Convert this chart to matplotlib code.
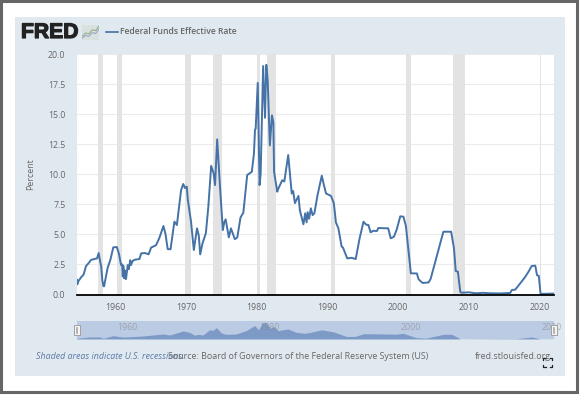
# -*- coding: utf-8 -*-
import matplotlib
matplotlib.use('Agg')
import matplotlib.pyplot as plt
import matplotlib.patheffects as pe
from matplotlib.patches import Rectangle

W, H = 580, 395

years = [1954.5, 1954.55, 1954.62, 1954.7, 1955.15, 1955.5, 1955.85, 1956.2, 1956.55, 1957.0, 1957.4, 1957.64,
         1957.75, 1958.0, 1958.15, 1958.3, 1958.4, 1958.9, 1959.3, 1959.7, 1960.2, 1960.5, 1960.8, 1960.95,
         1961.05, 1961.12, 1961.25, 1961.32, 1961.5, 1961.75, 1961.9, 1962.1, 1962.2, 1962.45, 1962.8, 1963.4,
         1963.65, 1964.2, 1964.7, 1965.05, 1965.75, 1966.2, 1966.8, 1967.1, 1967.4, 1967.8, 1968.35, 1968.7,
         1969.3, 1969.6, 1969.85, 1970.1, 1970.25, 1970.7, 1971.1, 1971.55, 1971.8, 1972.0, 1972.3, 1972.8,
         1973.15, 1973.55, 1973.9, 1974.1, 1974.4, 1974.8, 1975.2, 1975.4, 1975.6, 1976.05, 1976.35, 1976.9,
         1977.25, 1977.7, 1978.1, 1978.65, 1979.3, 1979.6, 1979.75, 1979.85, 1980.14, 1980.4, 1980.55, 1980.9,
         1981.05, 1981.17, 1981.35, 1981.55, 1981.85, 1982.15, 1982.35, 1982.45, 1982.9, 1983.05, 1983.6, 1983.9,
         1984.45, 1984.95, 1985.15, 1985.4, 1985.9, 1986.1, 1986.6, 1986.85, 1987.05, 1987.2, 1987.4, 1987.65,
         1987.9, 1988.15, 1988.6, 1989.2, 1989.5, 1989.8, 1990.5, 1990.9, 1991.2, 1991.55, 1992.0, 1992.2,
         1992.8, 1993.4, 1994.0, 1994.55, 1995.1, 1995.5, 1995.8, 1996.1, 1996.5, 1997.0, 1997.2, 1998.6,
         1998.95, 1999.4, 1999.8, 2000.3, 2000.75, 2001.1, 2001.45, 2001.8, 2002.65, 2002.9, 2003.45, 2004.3,
         2004.6, 2006.4, 2007.5, 2007.9, 2008.15, 2008.45, 2008.8, 2009.0, 2010.0, 2011.0, 2012.0, 2013.0,
         2014.5, 2015.85, 2016.1, 2016.55, 2016.9, 2017.5, 2017.9, 2018.4, 2018.9, 2019.4, 2019.65, 2019.9,
         2020.15, 2022.05]
rates = [1.07, 1.25, 0.85, 1.05, 1.43, 1.65, 2.37, 2.60, 2.87, 2.95, 3.00, 3.45,
         3.05, 2.30, 1.20, 0.70, 0.68, 2.20, 2.90, 3.92, 3.95, 3.40, 2.45, 2.50,
         1.50, 2.40, 1.35, 2.00, 1.27, 2.45, 2.10, 2.85, 2.45, 2.80, 2.90, 2.95,
         3.42, 3.45, 3.34, 3.90, 4.10, 4.67, 5.70, 5.00, 3.78, 3.76, 6.06, 5.78,
         8.69, 9.19, 8.85, 8.97, 7.86, 6.06, 3.70, 5.50, 4.90, 3.34, 4.20, 5.10,
         7.30, 10.70, 10.08, 9.10, 12.90, 8.97, 5.36, 6.00, 6.25, 4.75, 5.50, 4.60,
         4.75, 6.40, 6.80, 9.94, 10.20, 11.70, 13.70, 13.80, 17.60, 9.10, 10.00, 19.00,
         16.70, 14.70, 19.10, 17.80, 12.40, 14.90, 14.30, 10.20, 8.55, 8.80, 9.50, 9.40,
         11.60, 8.40, 8.60, 7.60, 8.20, 7.00, 5.84, 6.75, 6.00, 6.85, 6.30, 7.17,
         6.60, 6.75, 8.27, 9.88, 9.10, 8.40, 8.20, 7.60, 6.00, 5.50, 4.00, 3.90,
         3.00, 3.05, 2.95, 4.67, 6.05, 5.80, 5.78, 5.17, 5.30, 5.28, 5.53, 5.50,
         4.67, 4.80, 5.40, 6.50, 6.47, 5.70, 3.70, 1.76, 1.75, 1.26, 0.96, 1.00,
         1.30, 5.22, 5.22, 3.84, 1.95, 1.90, 0.20, 0.15, 0.18, 0.10, 0.14, 0.10,
         0.09, 0.13, 0.38, 0.40, 0.65, 1.10, 1.40, 1.85, 2.37, 2.40, 1.60, 1.55,
         0.05, 0.08]

# the overview strip is a smoothed version of the series
nav_years = [1954.5, 1956.4, 1957.8, 1958.3, 1959.7, 1960.6, 1961.3, 1963.9, 1966.8, 1967.7, 1969.6, 1970.5,
             1971.2, 1971.7, 1972.4, 1973.3, 1973.8, 1974.3, 1975.0, 1975.7, 1977.1, 1978.5, 1979.7, 1980.25,
             1980.8, 1981.3, 1981.95, 1982.4, 1983.0, 1984.4, 1985.6, 1986.8, 1987.5, 1989.2, 1990.8, 1992.7,
             1993.9, 1995.1, 1999.8, 2000.7, 2002.6, 2004.0, 2006.4, 2007.6, 2008.8, 2016.8, 2018.9, 2020.1,
             2022.05]
nav_rates = [0.8, 2.3, 2.3, 0.8, 3.8, 2.7, 2.2, 3.4, 5.7, 4.5, 9.2, 7.5,
             4.2, 5.3, 4.5, 10.4, 9.8, 12.9, 6.8, 5.3, 5.7, 9.5, 15.2, 10.6,
             18.2, 19.0, 12.2, 14.4, 9.5, 11.4, 7.6, 6.5, 7.4, 10.4, 8.2, 2.9,
             2.9, 6.0, 5.5, 6.5, 1.4, 1.0, 5.3, 5.3, 0.1, 0.4, 2.3, 0.1,
             0.1]

recession_start = [1957.55, 1960.2, 1969.9, 1973.8, 1980.0, 1981.5, 1990.45, 2001.05, 2007.8, 2020.05]
recession_end = [1958.2, 1960.98, 1970.7, 1975.1, 1980.4, 1982.75, 1991.05, 2001.85, 2009.4, 2020.2]

y_ticks = [0, 2.5, 5, 7.5, 10, 12.5, 15, 17.5, 20]
x_ticks = [1960, 1970, 1980, 1990, 2000, 2010, 2020]
nav_ticks = [1960, 1980, 2000, 2020]

plt.rcParams['font.family'] = ['Open Sans', 'DejaVu Sans']
TXT = '#666666'
LINE = '#4572a7'


def px_axes(left, top, right, bottom, **kw):
    return fig.add_axes([left / W, 1 - bottom / H, (right - left) / W, (bottom - top) / H], **kw)


def px_text(x, y, s, **kw):
    kw.setdefault('va', 'center')
    return fig.text(x / W, 1 - y / H, s, **kw)


fig = plt.figure(figsize=(W / 100, H / 100), dpi=100, facecolor='white')

# page frame and the light blue panel, kept under the axes
fig.add_artist(Rectangle((1.2 / W, 1 - 392 / H), 576 / W, 390.8 / H, transform=fig.transFigure,
                         fc='white', ec='#666666', lw=2.2, zorder=-3))
fig.add_artist(Rectangle((15 / W, 1 - 376 / H), 550 / W, 359 / H, transform=fig.transFigure,
                         fc='#e1e9f0', ec='none', zorder=-2))

# main chart
ax = px_axes(76.5, 54, 554, 294.5, facecolor='white')
for a, b in zip(recession_start, recession_end):
    ax.axvspan(a, b, color='#e3e3e3', lw=0, zorder=1)
ax.plot(years, rates, color=LINE, lw=1.4, zorder=3, solid_joinstyle='round')
ax.set_xlim(1954.5, 2022.05)
ax.set_ylim(0, 20)
ax.set_yticks(y_ticks)
ax.set_yticklabels(['%.1f' % v for v in y_ticks])
ax.set_xticks(x_ticks)
ax.grid(axis='y', color='#ececec', lw=0.8, zorder=0)
ax.set_axisbelow(True)
ax.tick_params(axis='both', length=0, labelsize=6.3, labelcolor=TXT)
ax.tick_params(axis='y', pad=8)
ax.tick_params(axis='x', pad=6)
for name in ['top', 'left', 'right']:
    ax.spines[name].set_visible(False)
ax.spines['bottom'].set_color('black')
ax.spines['bottom'].set_linewidth(1.3)
ax.spines['bottom'].set_zorder(5)
px_text(30.5, 174.5, 'Percent', rotation=90, ha='center', fontsize=6.3, color=TXT)

# navigator strip
nav = px_axes(76.5, 320.5, 554, 339)
nav.add_patch(Rectangle((0, 0), 1, 1, transform=nav.transAxes, fc='#bccbe4', ec='none', zorder=0))
nav.fill_between(nav_years, nav_rates, 0, color='#7d9ac7', lw=0, zorder=1)
nav.set_xlim(1954.5, 2022.05)
nav.set_ylim(0, 21)
nav.axis('off')
for yr in nav_ticks:
    nav.annotate(str(yr), (yr, 0.62), xycoords=('data', 'axes fraction'), xytext=(1.5, 0),
                 textcoords='offset points', ha='left', va='center', fontsize=6.3,
                 color='#888888', alpha=0.6, annotation_clip=False, zorder=4)
for hx in [76.5, 553.5]:
    fig.add_artist(Rectangle(((hx - 3) / W, 1 - 335 / H), 6 / W, 10.5 / H, transform=fig.transFigure,
                             fc='#f4f4f4', ec='#a0a0a0', lw=0.7))
    for off in [-0.9, 0.9]:
        fig.add_artist(plt.Line2D([(hx + off) / W] * 2, [1 - 333 / H, 1 - 327 / H], color='#999999', lw=0.5))

# header
px_text(21, 32.5, 'FRED', fontsize=15.2, fontweight='bold', family='Liberation Sans', color='#222222',
        path_effects=[pe.withStroke(linewidth=0.9, foreground='#222222')])
logo = px_axes(82, 25, 99, 39.5)
logo.add_patch(Rectangle((0, 0), 1, 1, transform=logo.transAxes, fc='#d9e1de', ec='none'))
logo.plot([0, 1, 2, 3, 4, 5], [0.8, 1.6, 1.4, 2.4, 2.2, 3.3], color='#93b08f', lw=0.8)
logo.plot([0, 1, 2, 3, 4, 5], [0.3, 1.0, 0.8, 1.7, 1.5, 2.6], color='#97a7bf', lw=0.8)
logo.set_xlim(0, 5)
logo.set_ylim(0, 3.6)
logo.axis('off')
fig.add_artist(plt.Line2D([105.5 / W, 117.5 / W], [1 - 31.5 / H] * 2, color=LINE, lw=1.2))
px_text(120.5, 32, 'Federal Funds Effective Rate', fontsize=6.2, fontweight='semibold', color=TXT)

# footer
px_text(36.5, 356.5, 'Shaded areas indicate U.S. recessions.', fontsize=6.4, style='italic', color='#5f7ba8')
px_text(168, 356.5, 'Source: Board of Governors of the Federal Reserve System (US)', fontsize=6.4, color=TXT)
px_text(475, 356.5, 'fred.stlouisfed.org', fontsize=6.4, color=TXT)

# fullscreen corner marks
for cx, dx in [(543, 1), (552, -1)]:
    for cy, dy in [(357.5, 1), (367, -1)]:
        fig.add_artist(plt.Line2D([cx / W, cx / W, (cx + 2.5 * dx) / W],
                                  [1 - (cy + 2.5 * dy) / H, 1 - cy / H, 1 - cy / H],
                                  color='#222222', lw=0.9))

fig.savefig('out.png', dpi=100)
